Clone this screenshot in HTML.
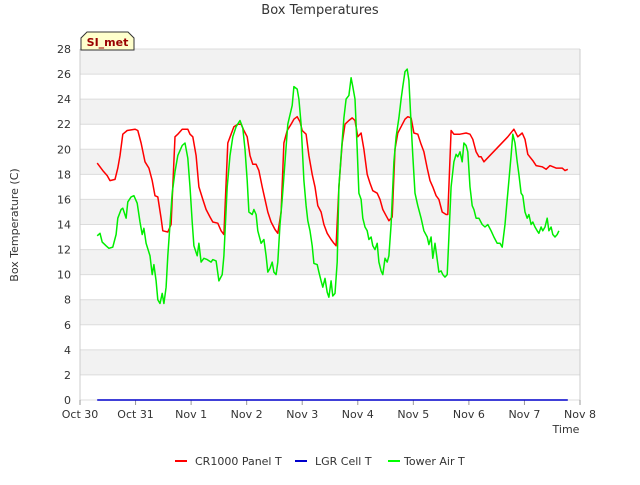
<!DOCTYPE html>
<html><head><meta charset="utf-8"><style>
body{margin:0;background:#fff;font-family:"Liberation Sans","DejaVu Sans",sans-serif}
svg text{font-family:"DejaVu Sans","Liberation Sans",sans-serif}
</style></head><body>
<svg id="chart" width="640" height="480" xmlns="http://www.w3.org/2000/svg">
<rect width="640" height="480" fill="#fff"/>
<g id="bands"></g><g id="grid"></g><g id="ticks"></g><g id="series"></g>
<text x="320" y="14" text-anchor="middle" font-size="13" fill="#333">Box Temperatures</text>
<text x="18" y="225" text-anchor="middle" font-size="11" fill="#333" transform="rotate(-90 18 225)">Box Temperature (C)</text>
<text x="566" y="433" text-anchor="middle" font-size="11" fill="#333">Time</text>
<g>
<path d="M81,50 L81,38 L87,32 L128,32 L134,38 L134,50 Z" fill="#ffffcc" stroke="#333" stroke-width="1"/>
<text x="107.5" y="46" text-anchor="middle" font-size="11" font-weight="bold" fill="#990000">SI_met</text>
</g>
<g>
<g><line x1="175" y1="461" x2="187" y2="461" stroke="#f00" stroke-width="2"/><text x="195" y="465" font-size="11" fill="#333">CR1000 Panel T</text></g>
<g><line x1="295" y1="461" x2="307" y2="461" stroke="#00c" stroke-width="2"/><text x="315" y="465" font-size="11" fill="#333">LGR Cell T</text></g>
<g><line x1="388" y1="461" x2="400" y2="461" stroke="#0f0" stroke-width="2"/><text x="404" y="465" font-size="11" fill="#333">Tower Air T</text></g>
</g>
</svg>
<script>
const xTickLabels=["Oct 30","Oct 31","Nov 1","Nov 2","Nov 3","Nov 4","Nov 5","Nov 6","Nov 7","Nov 8"];
const yTicks=[0,2,4,6,8,10,12,14,16,18,20,22,24,26,28];
const redT=[.31,.41,.49,.54,.63,.68,.72,.77,.85,.99,1.04,1.10,1.17,1.24,1.30,1.35,1.40,1.46,1.49,1.58,1.64,1.71,1.76,1.84,1.94,1.98,2.03,2.09,2.14,2.21,2.27,2.34,2.39,2.48,2.54,2.59,2.66,2.72,2.77,2.84,2.90,2.95,3.01,3.06,3.11,3.17,3.22,3.28,3.33,3.38,3.44,3.51,3.56,3.62,3.67,3.73,3.80,3.85,3.91,3.96,4.00,4.07,4.12,4.18,4.23,4.28,4.34,4.39,4.45,4.52,4.57,4.61,4.66,4.72,4.77,4.84,4.90,4.95,5.00,5.06,5.11,5.17,5.22,5.27,5.35,5.40,5.45,5.51,5.56,5.62,5.67,5.72,5.78,5.85,5.90,5.96,6.01,6.08,6.14,6.19,6.25,6.30,6.35,6.41,6.46,6.52,6.59,6.62,6.68,6.73,6.84,6.95,7.02,7.07,7.13,7.18,7.22,7.27,7.70,7.81,7.88,7.96,8.01,8.06,8.15,8.21,8.32,8.39,8.46,8.57,8.68,8.73,8.78];
const redV=[18.9,18.3,17.9,17.5,17.6,18.5,19.5,21.2,21.5,21.6,21.5,20.5,19.0,18.5,17.5,16.3,16.2,14.5,13.5,13.4,14.0,21.0,21.2,21.6,21.6,21.2,21.0,19.5,17.0,16.0,15.2,14.6,14.2,14.1,13.5,13.2,20.5,21.2,21.8,22.0,22.0,21.5,21.0,19.5,18.8,18.8,18.3,17.0,16.0,15.0,14.2,13.6,13.3,15.0,20.5,21.5,22.0,22.4,22.6,22.2,21.5,21.2,19.5,18.0,17.0,15.5,15.0,14.0,13.3,12.8,12.5,12.3,17.0,20.5,22.0,22.3,22.5,22.3,21.0,21.3,20.0,18.0,17.3,16.7,16.5,16.0,15.2,14.7,14.3,14.6,20.0,21.3,21.8,22.4,22.6,22.5,21.3,21.2,20.4,19.8,18.5,17.5,17.0,16.3,16.0,15.0,14.8,14.8,21.5,21.2,21.2,21.3,21.2,20.8,19.8,19.4,19.4,19.0,21.0,21.6,21.0,21.3,20.8,19.6,19.1,18.7,18.6,18.4,18.7,18.5,18.5,18.3,18.4];
const greenT=[.31,.36,.40,.47,.52,.59,.65,.68,.74,.77,.83,.86,.92,.97,1.03,1.08,1.12,1.15,1.19,1.26,1.30,1.33,1.37,1.40,1.44,1.48,1.51,1.55,1.58,1.62,1.66,1.71,1.76,1.84,1.89,1.94,1.98,2.02,2.05,2.11,2.14,2.18,2.23,2.29,2.36,2.39,2.45,2.50,2.56,2.59,2.65,2.70,2.75,2.81,2.88,2.93,2.97,3.01,3.04,3.10,3.13,3.17,3.20,3.26,3.31,3.35,3.38,3.42,3.46,3.49,3.53,3.56,3.60,3.64,3.69,3.74,3.82,3.85,3.91,3.94,3.98,4.03,4.07,4.10,4.14,4.18,4.21,4.27,4.30,4.34,4.37,4.41,4.45,4.48,4.52,4.55,4.59,4.63,4.66,4.70,4.75,4.79,4.84,4.88,4.91,4.95,4.99,5.02,5.06,5.09,5.13,5.17,5.20,5.24,5.27,5.31,5.35,5.38,5.42,5.45,5.49,5.53,5.56,5.60,5.65,5.69,5.74,5.78,5.81,5.85,5.89,5.92,5.96,5.99,6.03,6.08,6.14,6.19,6.25,6.28,6.32,6.35,6.39,6.43,6.46,6.50,6.53,6.57,6.61,6.64,6.68,6.73,6.77,6.80,6.84,6.88,6.91,6.95,6.98,7.02,7.06,7.09,7.13,7.18,7.24,7.29,7.34,7.40,7.45,7.51,7.56,7.60,7.65,7.69,7.72,7.76,7.79,7.83,7.87,7.90,7.94,7.97,8.01,8.05,8.08,8.12,8.15,8.19,8.23,8.26,8.30,8.33,8.37,8.41,8.44,8.48,8.51,8.55,8.59,8.62];
const greenV=[13.1,13.3,12.6,12.3,12.1,12.2,13.2,14.5,15.2,15.3,14.5,15.8,16.2,16.3,15.7,14.2,13.2,13.7,12.5,11.5,10.0,10.8,9.5,8.0,7.7,8.5,7.7,9.0,11.5,14.0,16.5,18.2,19.5,20.3,20.5,19.3,17.0,14.2,12.3,11.5,12.5,11.0,11.3,11.2,11.0,11.2,11.1,9.5,10.0,11.5,17.0,19.5,21.0,21.8,22.3,21.7,20.0,17.5,15.0,14.8,15.2,14.8,13.5,12.5,12.8,11.5,10.2,10.5,11.0,10.2,10.0,11.0,14.0,16.0,19.0,22.0,23.5,25.0,24.8,24.0,22.0,17.5,15.5,14.3,13.5,12.3,10.9,10.8,10.2,9.5,9.0,9.7,8.6,8.2,9.5,8.3,8.5,11.0,17.0,19.5,22.5,24.0,24.3,25.7,25.0,24.0,20.0,16.5,16.0,14.5,13.8,13.5,12.8,13.0,12.3,12.0,12.5,11.0,10.3,10.0,11.3,11.0,11.5,14.0,19.0,21.0,22.5,24.0,25.0,26.2,26.4,25.5,22.0,19.5,16.5,15.5,14.5,13.5,13.0,12.4,13.0,11.3,12.5,11.2,10.2,10.3,10.0,9.8,10.0,13.0,17.0,19.0,19.6,19.4,19.8,19.0,20.5,20.3,19.8,17.0,15.5,15.2,14.5,14.5,14.0,13.8,14.0,13.5,13.0,12.5,12.5,12.2,14.0,16.0,17.5,19.5,21.2,20.5,19.0,18.0,16.5,16.3,15.0,14.5,14.8,14.0,14.2,13.8,13.5,13.3,13.8,13.5,13.8,14.5,13.5,13.8,13.2,13.0,13.2,13.5];
const blueT=[.31,8.78];
const blueV=[0,0];

const X0=80,X1=580,Y0=400,Y1=49,XMAX=9,YMAX=28;
const xs=t=>X0+t*(X1-X0)/XMAX;
const ys=v=>Y0-v*(Y0-Y1)/YMAX;
const NS="http://www.w3.org/2000/svg";
function mk(tag,attrs,parent){const e=document.createElementNS(NS,tag);for(const k in attrs)e.setAttribute(k,attrs[k]);parent.appendChild(e);return e;}
const bands=document.getElementById('bands'),grid=document.getElementById('grid'),ticks=document.getElementById('ticks'),series=document.getElementById('series');
const pb=mk('rect',{x:X0,y:Y1,width:X1-X0,height:Y0-Y1,fill:'#fff'},bands);


for(let i=0;i<yTicks.length-1;i++){
  if(i%2===1){const b=mk('rect',{x:X0,y:ys(yTicks[i+1]),width:X1-X0,height:ys(yTicks[i])-ys(yTicks[i+1]),fill:'#f2f2f2'},bands);
  
  }
}
yTicks.forEach(v=>{
  const l=mk('line',{x1:X0,x2:X1,y1:ys(v),y2:ys(v),stroke:'#dcdcdc','stroke-width':1},grid);
  
  
  const t=mk('text',{x:X0-9,y:ys(v)+4,'text-anchor':'end','font-size':11,fill:'#333'},ticks);
  t.textContent=v;
  
  
});
mk('line',{x1:X0,x2:X0,y1:Y1,y2:Y0,stroke:'#ccc'},grid);
mk('line',{x1:X1,x2:X1,y1:Y1,y2:Y0,stroke:'#ccc'},grid);
xTickLabels.forEach((s,i)=>{
  const tk=mk('line',{x1:xs(i),x2:xs(i),y1:Y0,y2:Y0+5,stroke:'#999'},ticks);
  
  
  const t=mk('text',{x:xs(i),y:Y0+18,'text-anchor':'middle','font-size':11,fill:'#333'},ticks);
  t.textContent=s;
  
  
});
function line(T,V,color,name){
  const d=T.map((t,i)=>(i?'L':'M')+xs(t).toFixed(1)+','+ys(V[i]).toFixed(1)).join('');
  const p=mk('path',{d:d,fill:'none',stroke:color,'stroke-width':1.5,'stroke-linejoin':'round'},series);
  
  
}
line(blueT,blueV,'#0000cc','series-lgr-cell-t');
line(redT,redV,'#ff0000','series-cr1000-panel-t');
line(greenT,greenV,'#00ee00','series-tower-air-t');
</script>
</body></html>
